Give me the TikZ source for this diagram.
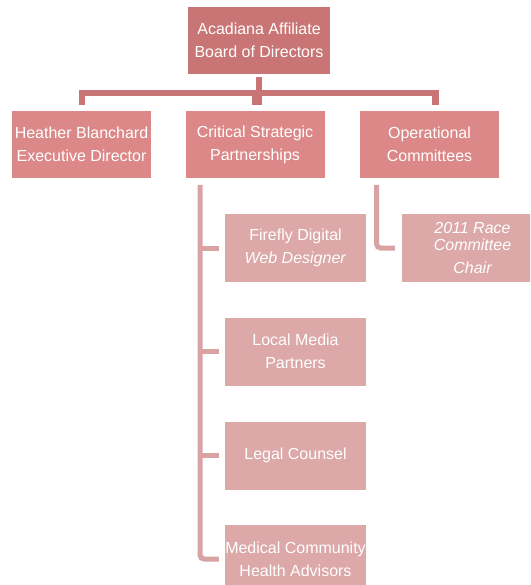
\documentclass[tikz,border=0pt]{standalone}
\usepackage{fontspec}
\setmainfont{Liberation Sans}
\definecolor{cone}{HTML}{C97575}
\definecolor{ctwo}{HTML}{DC8888}
\definecolor{cthree}{HTML}{DCA8A8}
\definecolor{lthree}{HTML}{D9A3A3}
\begin{document}
\begin{tikzpicture}[x=1pt,y=-1pt,
  box/.style={draw=none, text=white, align=center, inner sep=0pt,
    font=\fontsize{16}{23}\selectfont},
  topbox/.style={box, fill=cone, minimum width=142pt, minimum height=67pt},
  midbox/.style={box, fill=ctwo, minimum width=139pt, minimum height=67pt},
  lowbox/.style={box, fill=cthree, minimum width=141pt, minimum height=68pt},
  connone/.style={draw=cone, line width=6.5pt, line join=miter},
  conntwo/.style={draw=lthree, line width=5pt, rounded corners=4pt}]
\clip (0,0) rectangle (530,585);
\fill[white] (0,0) rectangle (530,585);

\node[topbox] (top) at (259,40.5) {Acadiana Affiliate\\Board of Directors};
\node[midbox] (heather) at (81.5,144.5) {Heather Blanchard\\Executive Director};
\node[midbox] (crit) at (255,144.5) {Critical Strategic\\Partnerships};
\node[midbox] (oper) at (429.5,144.5) {Operational\\Committees};

\node[lowbox] (firefly) at (295.5,248) {Firefly Digital\\\textit{Web Designer}};
\node[lowbox] (media) at (295.5,351.5) {Local Media\\Partners};
\node[lowbox] (legal) at (295.5,455.5) {Legal Counsel};
\node[lowbox] (medical) at (295.5,559) {Medical Community\\Health Advisors};
\node[lowbox] (race) at (472.5,248) {\itshape 2011 Race\\[-6pt]\itshape Committee\\\itshape Chair};

\coordinate (bar) at (0,93);
\coordinate (dl) at (82,105.5);
\coordinate (dc) at (255,105.5);
\coordinate (dr) at (435.5,105.5);
\draw[connone] (dl) -- (dl |- bar) -- (dr |- bar) -- (dr);
\draw[connone, shorten <=3pt] (top.south) -- (top.south |- dc);
\draw[connone] (dc) -- (dc |- bar);

\coordinate (cv) at (200,185);
\draw[conntwo, shorten >=6pt] (cv) |- (medical.west);
\draw[conntwo, shorten >=6pt] (firefly.west -| cv) -- (firefly.west);
\draw[conntwo, shorten >=6pt] (media.west -| cv) -- (media.west);
\draw[conntwo, shorten >=6pt] (legal.west -| cv) -- (legal.west);

\coordinate (ov) at (376.5,185);
\draw[conntwo, shorten >=7pt] (ov) |- (race.west);
\end{tikzpicture}
\end{document}
